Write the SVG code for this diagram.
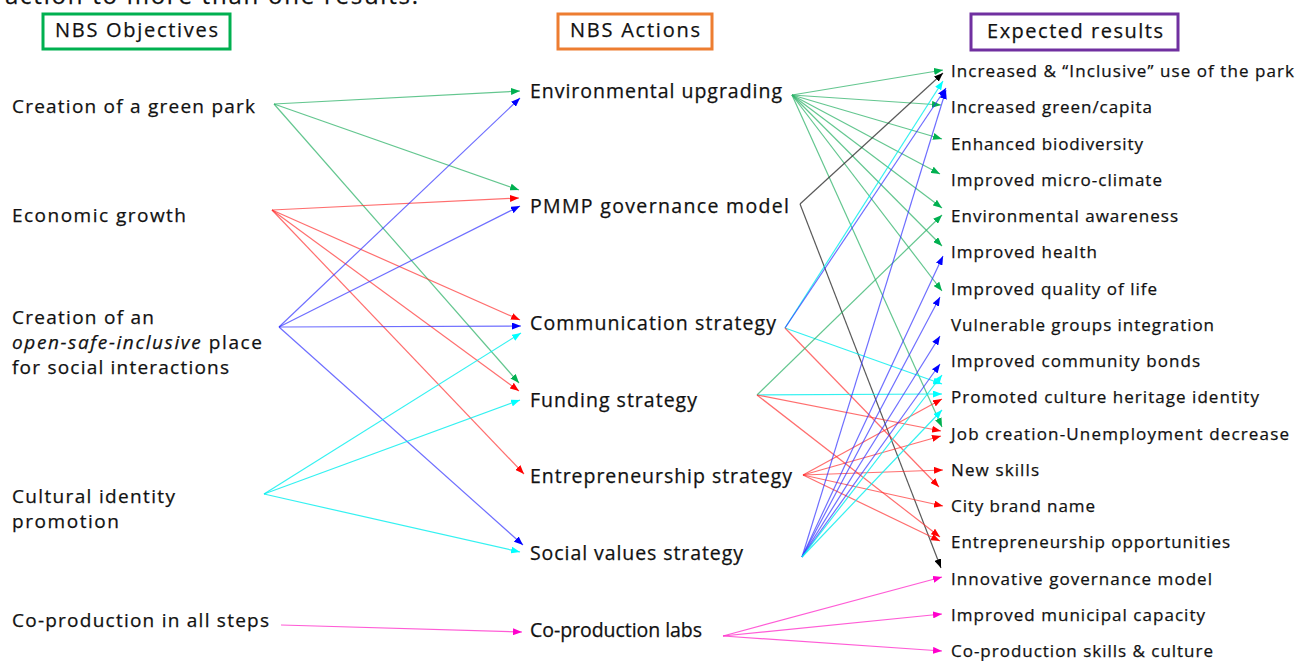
<svg xmlns="http://www.w3.org/2000/svg" width="1297" height="661" viewBox="0 0 1297 661">
  <style>
    text { font-family: "Open Sans", "Liberation Sans", sans-serif; fill: #111111; stroke: #111111; stroke-width: 0.25; }
    .obj { font-size: 19px; }
    .act { font-size: 19.5px; }
    .res { font-size: 17px; }
    .hdr { font-size: 20px; }
    .top { font-size: 24px; }
    .box { fill: #ffffff; stroke-width: 3; }
    #connectors line { stroke-width: 1.2; fill: none; }
    .g { stroke: #2fb36a; stroke-opacity: 0.75; marker-end: url(#ah-g); }
    .r { stroke: #ff3030; stroke-opacity: 0.7; marker-end: url(#ah-r); }
    .b { stroke: #3030ff; stroke-opacity: 0.7; marker-end: url(#ah-b); }
    .c { stroke: #00eeee; stroke-opacity: 0.8; marker-end: url(#ah-c); }
    .k { stroke: #303030; stroke-opacity: 0.8; marker-end: url(#ah-k); }
    .m { stroke: #ff33cc; stroke-opacity: 0.8; marker-end: url(#ah-m); }
  </style>
  <defs>
    <marker id="ah-g" viewBox="0 0 9 7" refX="9" refY="3.5" markerWidth="9" markerHeight="7" markerUnits="userSpaceOnUse" orient="auto"><path d="M0,0 L9,3.5 L0,7 z" fill="#00b050"/></marker>
    <marker id="ah-r" viewBox="0 0 9 7" refX="9" refY="3.5" markerWidth="9" markerHeight="7" markerUnits="userSpaceOnUse" orient="auto"><path d="M0,0 L9,3.5 L0,7 z" fill="#ff0000"/></marker>
    <marker id="ah-b" viewBox="0 0 9 7" refX="9" refY="3.5" markerWidth="9" markerHeight="7" markerUnits="userSpaceOnUse" orient="auto"><path d="M0,0 L9,3.5 L0,7 z" fill="#0000ff"/></marker>
    <marker id="ah-c" viewBox="0 0 9 7" refX="9" refY="3.5" markerWidth="9" markerHeight="7" markerUnits="userSpaceOnUse" orient="auto"><path d="M0,0 L9,3.5 L0,7 z" fill="#00ffff"/></marker>
    <marker id="ah-k" viewBox="0 0 9 7" refX="9" refY="3.5" markerWidth="9" markerHeight="7" markerUnits="userSpaceOnUse" orient="auto"><path d="M0,0 L9,3.5 L0,7 z" fill="#000000"/></marker>
    <marker id="ah-m" viewBox="0 0 9 7" refX="9" refY="3.5" markerWidth="9" markerHeight="7" markerUnits="userSpaceOnUse" orient="auto"><path d="M0,0 L9,3.5 L0,7 z" fill="#ff00cc"/></marker>
  </defs>

  <rect width="1297" height="661" fill="#ffffff"/>

  <!-- caption line running off the top edge -->
  <text class="top" x="5" y="4" textLength="413" lengthAdjust="spacing">action to more than one results.</text>

  <!-- column headers -->
  <g id="hdr-objectives">
    <rect class="box" x="43" y="14" width="187" height="35" stroke="#00b050"/>
    <text class="hdr" x="55" y="37" textLength="163" lengthAdjust="spacing">NBS Objectives</text>
  </g>
  <g id="hdr-actions">
    <rect class="box" x="558" y="14" width="154" height="35" stroke="#ed7d31"/>
    <text class="hdr" x="570" y="37" textLength="130" lengthAdjust="spacing">NBS Actions</text>
  </g>
  <g id="hdr-results">
    <rect class="box" x="971" y="14" width="207" height="36" stroke="#7030a0"/>
    <text class="hdr" x="987" y="38" textLength="176" lengthAdjust="spacing">Expected results</text>
  </g>

  <!-- connectors -->
  <g id="connectors">
    <!-- objectives to actions -->
    <line class="g" x1="274" y1="104" x2="520" y2="91"/>
    <line class="g" x1="274" y1="104" x2="519" y2="190"/>
    <line class="g" x1="274" y1="104" x2="519" y2="383"/>
    <line class="r" x1="272" y1="210" x2="519" y2="198"/>
    <line class="r" x1="272" y1="210" x2="520" y2="320"/>
    <line class="r" x1="272" y1="210" x2="519" y2="391"/>
    <line class="r" x1="272" y1="210" x2="524" y2="474"/>
    <line class="b" x1="279" y1="327" x2="520" y2="98"/>
    <line class="b" x1="279" y1="327" x2="520" y2="206"/>
    <line class="b" x1="279" y1="327" x2="521" y2="326"/>
    <line class="b" x1="279" y1="327" x2="523" y2="545"/>
    <line class="c" x1="264" y1="494" x2="521" y2="333"/>
    <line class="c" x1="264" y1="494" x2="520" y2="400"/>
    <line class="c" x1="264" y1="494" x2="520" y2="552"/>
    <line class="m" x1="281" y1="625" x2="522" y2="632"/>

    <!-- Environmental upgrading -->
    <line class="g" x1="792" y1="95" x2="943" y2="70"/>
    <line class="g" x1="792" y1="95" x2="941" y2="105"/>
    <line class="g" x1="792" y1="95" x2="942" y2="139"/>
    <line class="g" x1="792" y1="95" x2="940" y2="174"/>
    <line class="g" x1="792" y1="95" x2="942" y2="208"/>
    <line class="g" x1="792" y1="95" x2="942" y2="246"/>
    <line class="g" x1="792" y1="95" x2="942" y2="291"/>
    <line class="g" x1="792" y1="95" x2="942" y2="427"/>
    <!-- PMMP governance model -->
    <line class="k" x1="800" y1="204" x2="943" y2="73"/>
    <line class="k" x1="800" y1="204" x2="941" y2="568"/>
    <!-- Communication strategy -->
    <line class="c" x1="785" y1="328" x2="943" y2="81"/>
    <line class="b" x1="785" y1="328" x2="946" y2="88"/>
    <line class="c" x1="785" y1="328" x2="942" y2="384"/>
    <line class="r" x1="785" y1="328" x2="939" y2="487"/>
    <!-- Funding strategy -->
    <line class="g" x1="757" y1="395" x2="942" y2="215"/>
    <line class="c" x1="757" y1="395" x2="942" y2="394"/>
    <line class="r" x1="757" y1="395" x2="941" y2="431"/>
    <line class="r" x1="757" y1="395" x2="940" y2="537"/>
    <!-- Entrepreneurship strategy -->
    <line class="r" x1="803" y1="475" x2="942" y2="399"/>
    <line class="r" x1="803" y1="475" x2="941" y2="436"/>
    <line class="r" x1="803" y1="475" x2="943" y2="470"/>
    <line class="r" x1="803" y1="475" x2="943" y2="506"/>
    <line class="r" x1="803" y1="475" x2="940" y2="541"/>
    <!-- Social values strategy -->
    <line class="b" x1="802" y1="557" x2="946" y2="90"/>
    <line class="b" x1="802" y1="557" x2="943" y2="256"/>
    <line class="b" x1="802" y1="557" x2="940" y2="297"/>
    <line class="b" x1="802" y1="557" x2="940" y2="336"/>
    <line class="b" x1="802" y1="557" x2="940" y2="364"/>
    <line class="c" x1="802" y1="557" x2="942" y2="375"/>
    <line class="c" x1="802" y1="557" x2="942" y2="410"/>
    <!-- Co-production labs -->
    <line class="m" x1="723" y1="636" x2="942" y2="577"/>
    <line class="m" x1="723" y1="636" x2="942" y2="614"/>
    <line class="m" x1="723" y1="636" x2="942" y2="651"/>
  </g>

  <!-- objectives -->
  <g id="obj-green-park"><text class="obj" x="12" y="113" textLength="243" lengthAdjust="spacing">Creation of a green park</text></g>
  <g id="obj-economic"><text class="obj" x="12" y="222" textLength="174" lengthAdjust="spacing">Economic growth</text></g>
  <g id="obj-open-place">
    <text class="obj" x="12" y="324" textLength="142" lengthAdjust="spacing">Creation of an</text>
    <text class="obj" x="12" y="349" textLength="250" lengthAdjust="spacing"><tspan font-style="italic">open-safe-inclusive</tspan> place</text>
    <text class="obj" x="12" y="374" textLength="217" lengthAdjust="spacing">for social interactions</text>
  </g>
  <g id="obj-cultural">
    <text class="obj" x="12" y="503" textLength="163" lengthAdjust="spacing">Cultural identity</text>
    <text class="obj" x="12" y="528" textLength="107" lengthAdjust="spacing">promotion</text>
  </g>
  <g id="obj-coproduction"><text class="obj" x="12" y="627" textLength="257" lengthAdjust="spacing">Co-production in all steps</text></g>

  <!-- actions -->
  <g id="act-env"><text class="act" x="530" y="98" textLength="252" lengthAdjust="spacing">Environmental upgrading</text></g>
  <g id="act-pmmp"><text class="act" x="530" y="213" textLength="259" lengthAdjust="spacing">PMMP governance model</text></g>
  <g id="act-comm"><text class="act" x="530" y="330" textLength="246" lengthAdjust="spacing">Communication strategy</text></g>
  <g id="act-funding"><text class="act" x="530" y="407" textLength="167" lengthAdjust="spacing">Funding strategy</text></g>
  <g id="act-entre"><text class="act" x="530" y="483" textLength="262" lengthAdjust="spacing">Entrepreneurship strategy</text></g>
  <g id="act-social"><text class="act" x="530" y="560" textLength="213" lengthAdjust="spacing">Social values strategy</text></g>
  <g id="act-labs"><text class="act" x="530" y="637" textLength="172" lengthAdjust="spacing">Co-production labs</text></g>

  <!-- results -->
  <g id="res-01"><text class="res" x="951" y="77" textLength="343" lengthAdjust="spacing">Increased &amp; “Inclusive” use of the park</text></g>
  <g id="res-02"><text class="res" x="951" y="113" textLength="201" lengthAdjust="spacing">Increased green/capita</text></g>
  <g id="res-03"><text class="res" x="951" y="149.5" textLength="192" lengthAdjust="spacing">Enhanced biodiversity</text></g>
  <g id="res-04"><text class="res" x="951" y="186" textLength="211" lengthAdjust="spacing">Improved micro-climate</text></g>
  <g id="res-05"><text class="res" x="951" y="222" textLength="227" lengthAdjust="spacing">Environmental awareness</text></g>
  <g id="res-06"><text class="res" x="951" y="258" textLength="146" lengthAdjust="spacing">Improved health</text></g>
  <g id="res-07"><text class="res" x="951" y="294.5" textLength="206" lengthAdjust="spacing">Improved quality of life</text></g>
  <g id="res-08"><text class="res" x="951" y="331" textLength="263" lengthAdjust="spacing">Vulnerable groups integration</text></g>
  <g id="res-09"><text class="res" x="951" y="367" textLength="249" lengthAdjust="spacing">Improved community bonds</text></g>
  <g id="res-10"><text class="res" x="951" y="403" textLength="308" lengthAdjust="spacing">Promoted culture heritage identity</text></g>
  <g id="res-11"><text class="res" x="951" y="439.5" textLength="338" lengthAdjust="spacing">Job creation-Unemployment decrease</text></g>
  <g id="res-12"><text class="res" x="951" y="476" textLength="88" lengthAdjust="spacing">New skills</text></g>
  <g id="res-13"><text class="res" x="951" y="512" textLength="144" lengthAdjust="spacing">City brand name</text></g>
  <g id="res-14"><text class="res" x="951" y="548" textLength="279" lengthAdjust="spacing">Entrepreneurship opportunities</text></g>
  <g id="res-15"><text class="res" x="951" y="585" textLength="261" lengthAdjust="spacing">Innovative governance model</text></g>
  <g id="res-16"><text class="res" x="951" y="621" textLength="254" lengthAdjust="spacing">Improved municipal capacity</text></g>
  <g id="res-17"><text class="res" x="951" y="657" textLength="262" lengthAdjust="spacing">Co-production skills &amp; culture</text></g>
</svg>
